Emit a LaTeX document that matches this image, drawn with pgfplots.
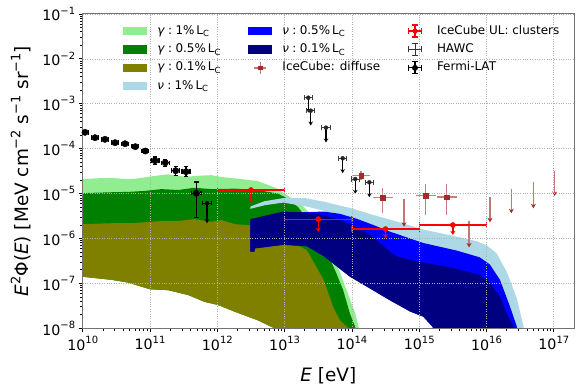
\documentclass[border=0pt]{standalone}
\usepackage{fontspec}
\setmainfont{DejaVu Sans}
\usepackage{pgfplots}
\pgfplotsset{compat=1.18}
\usetikzlibrary{arrows.meta}

\definecolor{lgreen}{HTML}{90EE90}
\definecolor{mgreen}{HTML}{008000}
\definecolor{olivec}{HTML}{808000}
\definecolor{lblue}{HTML}{ADD8E6}
\definecolor{bblue}{HTML}{0000FF}
\definecolor{navyc}{HTML}{000080}
\definecolor{brownc}{HTML}{A52A2A}
\definecolor{gridc}{HTML}{B0B0B0}

\newcommand\tsup[1]{\raisebox{0.48em}{\fontsize{10}{10}\selectfont #1}}
\newcommand\lsup[1]{\raisebox{0.45em}{\fontsize{13}{13}\selectfont #1}}
\newcommand\gsub[1]{\raisebox{-0.22em}{\fontsize{8.5}{8.5}\selectfont #1}}

\def\minorx{9.9}
\foreach \n in {10,...,16}{\foreach \k in {0.30103,0.47712,0.60206,0.69897,0.77815,0.8451,0.90309,0.95424}{\pgfmathsetmacro\v{\n+\k}\xdef\minorx{\minorx,\v}}}
\def\minory{-8.5}
\foreach \n in {-8,...,-2}{\foreach \k in {0.30103,0.47712,0.60206,0.69897,0.77815,0.8451,0.90309,0.95424}{\pgfmathsetmacro\v{\n+\k}\xdef\minory{\minory,\v}}}

\pgfplotsset{
  bandleg/.style={legend image code/.code={%
    \path[draw=none, fill=none] (0bp,-7bp) rectangle (24bp,7bp);%
    \fill[##1, draw=none] (0bp,-4.2bp) rectangle (24bp,4.2bp);}},
  ebleg/.style n args={3}{legend image code/.code={%
    \path[draw=none, fill=none] (0bp,-7bp) rectangle (24bp,7bp);%
    \draw[#1, line width=#2] (5.5bp,0bp) -- (18.5bp,0bp);%
    \draw[#1, line width=#2] (5.5bp,-3bp) -- (5.5bp,3bp);%
    \draw[#1, line width=#2] (18.5bp,-3bp) -- (18.5bp,3bp);%
    \draw[#1, line width=#2] (12bp,-6bp) -- (12bp,6bp);%
    \draw[#1, line width=#2] (9bp,-6bp) -- (15bp,-6bp);%
    \draw[#1, line width=#2] (9bp,6bp) -- (15bp,6bp);%
    \fill[#1, draw=none] (12bp,0bp) circle (#3);}},
  diffleg/.style={legend image code/.code={%
    \path[draw=none, fill=none] (0bp,-7bp) rectangle (24bp,7bp);%
    \draw[brownc!65, line width=1.4bp] (6bp,0bp) -- (18bp,0bp);%
    \draw[brownc!65, line width=1.4bp] (12bp,-6bp) -- (12bp,6bp);%
    \fill[brownc, draw=none] (9.8bp,-2.2bp) rectangle (14.2bp,2.2bp);}},
}

\begin{document}
\begin{tikzpicture}
\useasboundingbox (-82.7bp,-59.7bp) rectangle (498.3bp,328.3bp);
\begin{axis}[
  at={(0,0)}, anchor=south west,
  scale only axis, width=491.3bp, height=314.3bp,
  xmin=10, xmax=17.3, ymin=-8, ymax=-1,
  xtick={10,11,12,13,14,15,16,17},
  ytick={-8,-7,-6,-5,-4,-3,-2,-1},
  xticklabels={10\tsup{10},10\tsup{11},10\tsup{12},10\tsup{13},10\tsup{14},10\tsup{15},10\tsup{16},10\tsup{17}},
  yticklabels={10\tsup{−8},10\tsup{−7},10\tsup{−6},10\tsup{−5},10\tsup{−4},10\tsup{−3},10\tsup{−2},10\tsup{−1}},
  minor xtick/.expanded=\minorx,
  minor ytick/.expanded=\minory,
  tick align=outside, xtick pos=bottom, ytick pos=left,
  major tick length=4bp, minor tick length=2.3bp,
  tick style={black, line width=0.8bp},
  grid=major, major grid style={gridc, dotted, line width=0.7bp},
  axis line style={black!55, line width=1bp},
  axis on top,
  ticklabel style={font=\fontsize{14.3}{16}\selectfont},
  xlabel={\textit{E} [eV]},
  ylabel={\textit{E}\lsup{2}Φ(\textit{E}) [MeV cm\lsup{−2} s\lsup{−1} sr\lsup{−1}]},
  label style={font=\fontsize{18.5}{20}\selectfont},
  xlabel style={at={(rel axis cs:0.5,0)}, anchor=center, yshift=-47.7bp},
  ylabel style={at={(rel axis cs:0,0.5)}, anchor=center, yshift=61.7bp},
  legend columns=3,
  legend cell align=left,
  legend style={draw=none, fill=none, at={(rel axis cs:0.0826,0.968)}, anchor=north west,
    font=\fontsize{12}{14}\selectfont, inner sep=0pt, outer sep=0pt, row sep=4.4bp,
    nodes={inner sep=0pt, text height=9bp, text depth=3bp},
    /tikz/every odd column/.append style={column sep=10bp},
    /tikz/column 2/.append style={column sep=28bp},
    /tikz/column 4/.append style={column sep=22.8bp}},
]
% ---------------- gamma bands ----------------
\addplot[forget plot, fill=lgreen, draw=none] coordinates {
(9.99,-4.68) (10.2,-4.66) (10.43,-4.65) (10.67,-4.68) (10.83,-4.66) (11.0,-4.62) (11.27,-4.57) (11.42,-4.61) (11.57,-4.62) (11.74,-4.60) (11.91,-4.59) (12.06,-4.63) (12.26,-4.66) (12.6,-4.72) (12.88,-4.88) (13.03,-5.03) (13.23,-5.21) (13.35,-5.40) (13.6,-6.00) (13.83,-6.78) (13.92,-7.15) (14.05,-7.67) (14.1,-7.97) (14.15,-8.3)
(12.9,-8.3) (12.85,-8.0) (12.6,-7.82) (12.26,-7.63) (12.01,-7.48) (11.81,-7.41) (11.57,-7.26) (11.27,-7.15) (11.0,-7.13) (10.67,-6.98) (10.43,-6.92) (9.99,-6.85)};
\addplot[forget plot, fill=mgreen, draw=none] coordinates {
(9.99,-4.99) (10.2,-4.98) (10.43,-4.97) (10.7,-4.96) (10.92,-4.94) (11.17,-4.90) (11.42,-4.92) (11.66,-4.87) (11.91,-4.90) (12.26,-4.89) (12.6,-4.92) (12.9,-5.00) (13.03,-5.10) (13.2,-5.30) (13.4,-5.70) (13.6,-6.20) (13.77,-6.78) (13.87,-7.15) (13.97,-7.67) (14.05,-7.97) (14.08,-8.3)
(12.9,-8.3) (12.85,-8.0) (12.6,-7.82) (12.26,-7.63) (12.01,-7.48) (11.81,-7.41) (11.57,-7.26) (11.27,-7.15) (11.0,-7.13) (10.67,-6.98) (10.43,-6.92) (9.99,-6.85)};
\addplot[forget plot, fill=olivec, draw=none] coordinates {
(9.99,-5.68) (10.2,-5.67) (10.43,-5.66) (10.7,-5.66) (10.92,-5.64) (11.17,-5.61) (11.42,-5.61) (11.66,-5.57) (11.91,-5.63) (12.06,-5.59) (12.26,-5.68) (12.6,-5.72) (12.98,-6.11) (13.23,-6.18) (13.33,-6.26) (13.58,-6.92) (13.72,-7.52) (13.82,-7.82) (13.95,-8.0) (13.97,-8.3)
(12.9,-8.3) (12.85,-8.0) (12.6,-7.82) (12.26,-7.63) (12.01,-7.48) (11.81,-7.41) (11.57,-7.26) (11.27,-7.15) (11.0,-7.13) (10.67,-6.98) (10.43,-6.92) (9.99,-6.85)};
% ---------------- neutrino bands ----------------
\addplot[forget plot, fill=lblue, draw=none] coordinates {
(12.49,-5.29) (12.7,-5.17) (12.98,-5.10) (13.3,-5.10) (13.58,-5.18) (14.0,-5.33) (14.3,-5.47) (14.57,-5.58) (15.06,-5.80) (15.56,-5.96) (15.85,-6.06) (16.0,-6.15) (16.15,-6.33) (16.3,-6.74) (16.45,-7.33) (16.55,-7.96) (16.58,-8.3)
(16.0,-8.3) (15.5,-7.9) (15.0,-7.3) (14.5,-6.6) (13.82,-5.55) (13.58,-5.38) (13.33,-5.29) (12.98,-5.20) (12.7,-5.26) (12.49,-5.34)};
\addplot[forget plot, fill=bblue, draw=none] coordinates {
(12.49,-5.62) (12.98,-5.45) (13.2,-5.42) (13.58,-5.40) (13.82,-5.45) (14.07,-5.56) (14.32,-5.70) (14.57,-5.85) (15.06,-6.10) (15.56,-6.27) (15.9,-6.42) (16.05,-6.58) (16.2,-6.92) (16.35,-7.52) (16.45,-7.96) (16.48,-8.3)
(15.25,-8.3) (15.2,-7.97) (15.06,-7.74) (14.87,-7.63) (14.57,-7.38) (14.22,-7.07) (13.97,-6.85) (13.58,-6.39) (13.33,-6.17) (12.98,-6.14) (12.56,-6.22) (12.55,-6.29) (12.49,-6.29)};
\addplot[forget plot, fill=navyc, draw=none] coordinates {
(12.49,-5.57) (12.98,-5.40) (13.33,-5.42) (13.58,-5.48) (13.82,-5.59) (14.07,-5.74) (14.22,-5.88) (14.4,-6.08) (14.57,-6.30) (14.67,-6.40) (14.96,-6.51) (15.46,-6.64) (15.9,-6.81) (16.05,-6.99) (16.2,-7.30) (16.3,-7.67) (16.40,-7.96) (16.42,-8.3)
(15.25,-8.3) (15.2,-7.97) (15.06,-7.74) (14.87,-7.63) (14.57,-7.38) (14.22,-7.07) (13.97,-6.85) (13.58,-6.39) (13.33,-6.17) (12.98,-6.14) (12.56,-6.22) (12.55,-6.29) (12.49,-6.29)};
% ---------------- IceCube diffuse (brown) ----------------
\addplot[forget plot, brownc, only marks, mark=square*, mark size=2.2bp,
  error bars/.cd, x dir=both, x explicit, y dir=both, y explicit, error mark=none,
  error bar style={brownc, opacity=0.6, line width=1.4bp}]
coordinates {
(14.135,-4.601) +- (0.13,0.095)
(14.458,-5.091) += (0.15,0.21) -= (0.15,0.33)
(15.097,-5.047) += (0.15,0.25) -= (0.15,0.43)
(15.409,-5.076) += (0.15,0.30) -= (0.15,0.40)
};
\addplot[forget plot, brownc!65, line width=1.4bp, quiver={u=0, v=\thisrow{v}},
  -{Stealth[length=4.5bp, width=5bp, color=brownc]}]
table[x=x, y=y] {
x y v
14.774 -5.127 -0.61
15.741 -5.610 -0.59
16.052 -5.069 -0.57
16.369 -4.898 -0.54
16.696 -4.742 -0.585
17.013 -4.497 -0.556
};
% ---------------- IceCube UL clusters (red) ----------------
\addplot[forget plot, red, line width=1.4bp, quiver={u=0, v=\thisrow{v}},
  -{Stealth[length=4bp, width=5bp]}]
table[x=x, y=y] {
x y v
12.5 -4.92 -0.28
13.5 -5.57 -0.28
14.5 -5.79 -0.20
15.5 -5.70 -0.22
};
\addplot[forget plot, red, only marks, mark=*, mark size=2.6bp,
  error bars/.cd, x dir=both, x explicit,
  error bar style={red, line width=1.2bp}, error mark options={rotate=90, red, line width=1.2bp, mark size=3bp}]
coordinates {
(12.5,-4.92) +- (0.5,0)
(13.5,-5.57) +- (0.5,0)
(14.5,-5.79) +- (0.5,0)
(15.5,-5.70) +- (0.5,0)
};
% ---------------- HAWC ----------------
\addplot[forget plot, black, line width=1.1bp, quiver={u=0, v=\thisrow{v}},
  -{Stealth[length=4bp, width=4.5bp]}]
table[x=x, y=y] {
x y v
13.352 -2.864 -0.33
13.388 -3.154 -0.33
13.615 -3.532 -0.33
13.863 -4.214 -0.33
14.05 -4.675 -0.33
14.259 -4.749 -0.33
};
\addplot[forget plot, black!85, only marks, mark=none,
  error bars/.cd, x dir=both, x explicit,
  error bar style={black!75, line width=1bp}, error mark options={rotate=90, black!75, line width=1bp, mark size=2.6bp}]
coordinates {
(13.352,-2.864) +- (0.06,0)
(13.388,-3.154) +- (0.06,0)
(13.615,-3.532) +- (0.06,0)
(13.863,-4.214) +- (0.06,0)
(14.05,-4.675) +- (0.06,0)
(14.259,-4.749) +- (0.06,0)
};
% ---------------- Fermi-LAT ----------------
\addplot[forget plot, black, only marks, mark=*, mark size=3.2bp,
  error bars/.cd, x dir=both, x explicit, y dir=both, y explicit,
  error bar style={black, line width=1.2bp}, error mark options={rotate=90, black, line width=1.2bp, mark size=2.2bp}]
coordinates {
(10.034,-3.635) +- (0.05,0.02)
(10.183,-3.755) +- (0.05,0.02)
(10.331,-3.791) +- (0.05,0.02)
(10.48,-3.866) +- (0.05,0.02)
(10.629,-3.889) +- (0.05,0.03)
(10.782,-3.955) +- (0.05,0.03)
(10.93,-4.051) +- (0.05,0.04)
(11.074,-4.267) +- (0.06,0.08)
(11.227,-4.312) +- (0.06,0.08)
(11.382,-4.49) +- (0.06,0.10)
(11.535,-4.512) +- (0.06,0.11)
(11.688,-4.993) += (0.07,0.25) -= (0.07,0.535)
};
\addplot[forget plot, black, line width=1.2bp, quiver={u=0, v=\thisrow{v}},
  -{Stealth[length=4bp, width=4.5bp]}]
table[x=x, y=y] {
x y v
11.847 -5.216 -0.445
};
\addplot[forget plot, black, only marks, mark=none,
  error bars/.cd, x dir=both, x explicit,
  error bar style={black, line width=1.2bp}, error mark options={rotate=90, black, line width=1.2bp, mark size=2.2bp}]
coordinates {(11.847,-5.216) +- (0.07,0)};
% ---------------- legend (row-major order) ----------------
\addlegendimage{bandleg, fill=lgreen}
\addlegendentry{\textit{γ}\;:\;1\%\,L\gsub{C}}
\addlegendimage{bandleg, fill=bblue}
\addlegendentry{\textit{ν}\;:\;0.5\%\,L\gsub{C}}
\addlegendimage{ebleg={red}{1.2bp}{2.6bp}}
\addlegendentry{IceCube UL: clusters}
\addlegendimage{bandleg, fill=mgreen}
\addlegendentry{\textit{γ}\;:\;0.5\%\,L\gsub{C}}
\addlegendimage{bandleg, fill=navyc}
\addlegendentry{\textit{ν}\;:\;0.1\%\,L\gsub{C}}
\addlegendimage{ebleg={black!80}{1bp}{0bp}}
\addlegendentry{HAWC}
\addlegendimage{bandleg, fill=olivec}
\addlegendentry{\textit{γ}\;:\;0.1\%\,L\gsub{C}}
\addlegendimage{diffleg}
\addlegendentry{IceCube: diffuse}
\addlegendimage{ebleg={black}{1.2bp}{3bp}}
\addlegendentry{Fermi-LAT}
\addlegendimage{bandleg, fill=lblue}
\addlegendentry{\textit{ν}\;:\;1\%\,L\gsub{C}}
\end{axis}
\end{tikzpicture}
\end{document}
